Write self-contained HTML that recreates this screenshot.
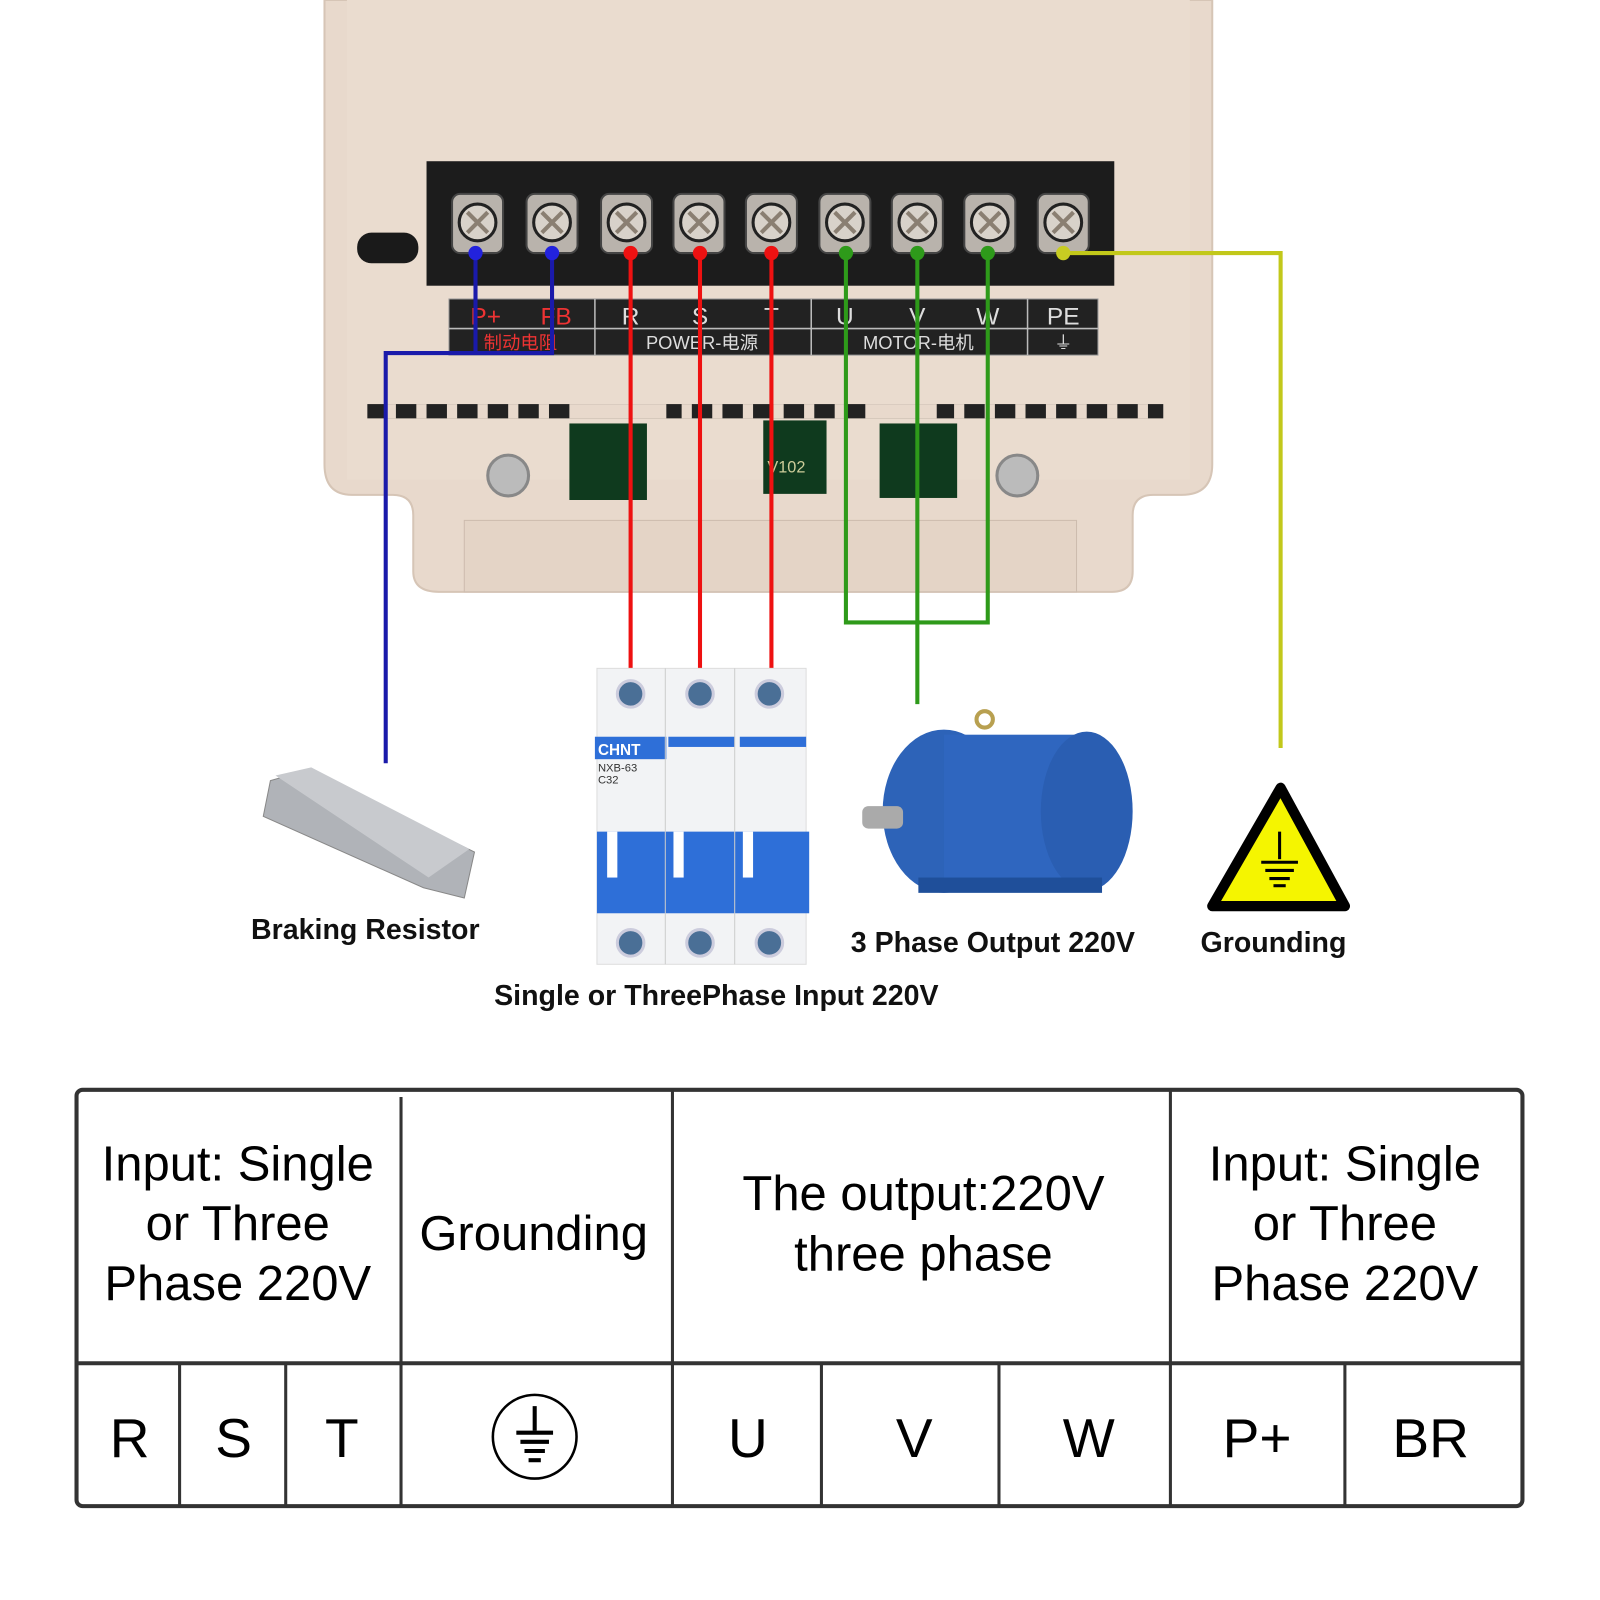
<!DOCTYPE html>
<html><head><meta charset="utf-8"><style>html,body{margin:0;padding:0;background:#fff}svg{display:block}</style></head><body>
<svg width="1600" height="1600" viewBox="0 0 1568 1568" xmlns="http://www.w3.org/2000/svg" font-family="Liberation Sans, DejaVu Sans, sans-serif">
<!-- housing -->
<path d="M318 0 H1188 V455 Q1188 485 1158 485 H1130 Q1110 485 1110 505 V560 Q1110 580 1090 580 H430 Q405 580 405 560 V505 Q405 485 385 485 H345 Q318 485 318 455 Z" fill="#e8d9cc" stroke="#d6c5b6" stroke-width="2"/>
<rect x="340" y="0" width="826" height="470" fill="#eadccf"/>
<rect x="455" y="510" width="600" height="70" fill="#e4d4c6" stroke="#cdbcae"/>
<rect x="350" y="228" width="60" height="30" rx="14" fill="#1a1a1a"/>
<!-- terminal block -->
<rect x="418" y="158" width="674" height="122" fill="#1c1c1c"/>
<g fill="#b9b3ac" stroke="#444" stroke-width="2">
<rect x="443" y="190" width="50" height="58" rx="8"/><rect x="516" y="190" width="50" height="58" rx="8"/><rect x="589" y="190" width="50" height="58" rx="8"/><rect x="660" y="190" width="50" height="58" rx="8"/><rect x="731" y="190" width="50" height="58" rx="8"/><rect x="803" y="190" width="50" height="58" rx="8"/><rect x="874" y="190" width="50" height="58" rx="8"/><rect x="945" y="190" width="50" height="58" rx="8"/><rect x="1017" y="190" width="50" height="58" rx="8"/>
</g>
<g fill="#d8d2ca" stroke="#222" stroke-width="3">
<circle cx="468" cy="218" r="18"/><circle cx="541" cy="218" r="18"/><circle cx="614" cy="218" r="18"/><circle cx="685" cy="218" r="18"/><circle cx="756" cy="218" r="18"/><circle cx="828" cy="218" r="18"/><circle cx="899" cy="218" r="18"/><circle cx="970" cy="218" r="18"/><circle cx="1042" cy="218" r="18"/>
</g>
<g stroke="#8a7f72" stroke-width="4">
<path d="M458 208 L478 228 M478 208 L458 228 M531 208 L551 228 M551 208 L531 228 M604 208 L624 228 M624 208 L604 228 M675 208 L695 228 M695 208 L675 228 M746 208 L766 228 M766 208 L746 228 M818 208 L838 228 M838 208 L818 228 M889 208 L909 228 M909 208 L889 228 M960 208 L980 228 M980 208 L960 228 M1032 208 L1052 228 M1052 208 L1032 228"/>
</g>
<!-- label strip -->
<rect x="440" y="293" width="636" height="55" fill="#222" stroke="#999"/>
<g stroke="#bbb" stroke-width="1.5"><line x1="440" y1="322" x2="1076" y2="322"/><line x1="583" y1="293" x2="583" y2="348"/><line x1="795" y1="293" x2="795" y2="348"/><line x1="1007" y1="293" x2="1007" y2="348"/></g>
<g font-size="24" fill="#ddd" text-anchor="middle"><text x="476" y="318" fill="#e33">P+</text><text x="545" y="318" fill="#e33">FB</text><text x="618" y="318">R</text><text x="686" y="318">S</text><text x="756" y="318">T</text><text x="828" y="318">U</text><text x="899" y="318">V</text><text x="968" y="318">W</text><text x="1042" y="318">PE</text></g>
<g font-size="18" fill="#ddd" text-anchor="middle" font-family="Liberation Sans, Noto Sans CJK SC, sans-serif"><text x="510" y="342" fill="#e33">制动电阻</text><text x="688" y="342">POWER-电源</text><text x="900" y="342">MOTOR-电机</text><text x="1042" y="342">⏚</text></g>
<!-- vents -->
<rect x="360" y="396" width="780" height="14" fill="#222"/>
<g fill="#e8d9cc"><rect x="378" y="396" width="10" height="14"/><rect x="408" y="396" width="10" height="14"/><rect x="438" y="396" width="10" height="14"/><rect x="468" y="396" width="10" height="14"/><rect x="498" y="396" width="10" height="14"/><rect x="528" y="396" width="10" height="14"/><rect x="558" y="396" width="95" height="14"/><rect x="668" y="396" width="10" height="14"/><rect x="698" y="396" width="10" height="14"/><rect x="728" y="396" width="10" height="14"/><rect x="758" y="396" width="10" height="14"/><rect x="788" y="396" width="10" height="14"/><rect x="818" y="396" width="10" height="14"/><rect x="848" y="396" width="70" height="14"/><rect x="935" y="396" width="10" height="14"/><rect x="965" y="396" width="10" height="14"/><rect x="995" y="396" width="10" height="14"/><rect x="1025" y="396" width="10" height="14"/><rect x="1055" y="396" width="10" height="14"/><rect x="1085" y="396" width="10" height="14"/><rect x="1115" y="396" width="10" height="14"/></g>
<rect x="558" y="415" width="76" height="75" fill="#0f3a1e"/><rect x="748" y="412" width="62" height="72" fill="#0f3a1e"/><rect x="862" y="415" width="76" height="73" fill="#0f3a1e"/>
<text x="752" y="463" font-size="16" fill="#cc9">V102</text>
<circle cx="498" cy="466" r="20" fill="#bbb" stroke="#888" stroke-width="3"/><circle cx="997" cy="466" r="20" fill="#bbb" stroke="#888" stroke-width="3"/>
<!-- wires -->
<g fill="none" stroke-width="4">
<path d="M466 248 V346 H378 V748 M541 248 V346 H466" stroke="#1a1aaa"/>
<path d="M618 248 V680 M686 248 V680 M756 248 V680" stroke="#ee1111"/>
<path d="M829 248 V610 H968 V248 M899 248 V690" stroke="#2e9a1a"/>
<path d="M1042 248 H1255 V733" stroke="#c2c81a"/>
</g>
<g><circle cx="466" cy="248" r="7" fill="#2222dd"/><circle cx="541" cy="248" r="7" fill="#2222dd"/><circle cx="618" cy="248" r="7" fill="#e11"/><circle cx="686" cy="248" r="7" fill="#e11"/><circle cx="756" cy="248" r="7" fill="#e11"/><circle cx="829" cy="248" r="7" fill="#2e9a1a"/><circle cx="899" cy="248" r="7" fill="#2e9a1a"/><circle cx="968" cy="248" r="7" fill="#2e9a1a"/><circle cx="1042" cy="248" r="7" fill="#c8cc22"/></g>
<!-- resistor -->
<path d="M265 765 L300 755 L465 835 L455 880 L415 870 L258 800 Z" fill="#b0b3b8" stroke="#888"/>
<path d="M270 760 L305 752 L460 832 L420 860 Z" fill="#c8cace"/>
<!-- breaker -->
<rect x="585" y="655" width="205" height="290" fill="#f2f3f5" stroke="#ddd"/>
<rect x="583" y="722" width="70" height="22" fill="#2e6fd8"/><rect x="655" y="722" width="65" height="10" fill="#2e6fd8"/><rect x="725" y="722" width="65" height="10" fill="#2e6fd8"/>
<text x="586" y="740" font-size="15" font-weight="bold" fill="#fff">CHNT</text>
<text x="586" y="756" font-size="11" fill="#333">NXB-63</text><text x="586" y="768" font-size="11" fill="#333">C32</text>
<rect x="585" y="815" width="208" height="80" fill="#2e6fd8"/><rect x="595" y="815" width="10" height="45" fill="#fff"/><rect x="660" y="815" width="10" height="45" fill="#fff"/><rect x="728" y="815" width="10" height="45" fill="#fff"/>
<line x1="652" y1="655" x2="652" y2="945" stroke="#ccc"/><line x1="720" y1="655" x2="720" y2="945" stroke="#ccc"/>
<g fill="#4a6f96" stroke="#ccd" stroke-width="3"><circle cx="618" cy="680" r="13"/><circle cx="686" cy="680" r="13"/><circle cx="754" cy="680" r="13"/><circle cx="618" cy="924" r="13"/><circle cx="686" cy="924" r="13"/><circle cx="754" cy="924" r="13"/></g>
<!-- motor -->
<ellipse cx="925" cy="795" rx="60" ry="80" fill="#2d63b8"/>
<rect x="925" y="720" width="140" height="150" fill="#2f66bf"/>
<ellipse cx="1065" cy="795" rx="45" ry="78" fill="#2a5eb2"/>
<rect x="845" y="790" width="40" height="22" rx="6" fill="#aaa"/>
<circle cx="965" cy="705" r="8" fill="none" stroke="#b8a050" stroke-width="4"/>
<rect x="900" y="860" width="180" height="15" fill="#1f4f9a"/>
<!-- ground sign -->
<path d="M1255 772 L1318 888 H1188 Z" fill="#f5f500" stroke="#000" stroke-width="10" stroke-linejoin="round"/>
<g stroke="#000" stroke-width="3"><line x1="1254" y1="815" x2="1254" y2="842"/><line x1="1236" y1="845" x2="1272" y2="845"/><line x1="1240" y1="853" x2="1268" y2="853"/><line x1="1244" y1="861" x2="1264" y2="861"/><line x1="1248" y1="868" x2="1260" y2="868"/></g>
<!-- labels -->
<g font-size="28" font-weight="bold" fill="#111" text-anchor="middle"><text x="358" y="920">Braking Resistor</text><text x="973" y="933">3 Phase Output 220V</text><text x="1248" y="933">Grounding</text><text x="702" y="985">Single or ThreePhase Input 220V</text></g>
<!-- table -->
<rect x="75" y="1068" width="1417" height="408" rx="6" fill="#fff" stroke="#333" stroke-width="4"/>
<line x1="75" y1="1336" x2="1492" y2="1336" stroke="#333" stroke-width="4"/>
<g stroke="#333" stroke-width="3"><line x1="393" y1="1075" x2="393" y2="1476"/><line x1="659" y1="1068" x2="659" y2="1476"/><line x1="1147" y1="1068" x2="1147" y2="1476"/><line x1="176" y1="1336" x2="176" y2="1476"/><line x1="280" y1="1336" x2="280" y2="1476"/><line x1="805" y1="1336" x2="805" y2="1476"/><line x1="979" y1="1336" x2="979" y2="1476"/><line x1="1318" y1="1336" x2="1318" y2="1476"/></g>
<g font-size="48" fill="#000" text-anchor="middle">
<text x="233" y="1157">Input: Single</text><text x="233" y="1215">or Three</text><text x="233" y="1274">Phase 220V</text>
<text x="523" y="1225">Grounding</text>
<text x="905" y="1186">The output:220V</text><text x="905" y="1245">three phase</text>
<text x="1318" y="1157">Input: Single</text><text x="1318" y="1215">or Three</text><text x="1318" y="1274">Phase 220V</text>
<g font-size="54"><text x="127" y="1428">R</text><text x="229" y="1428">S</text><text x="335" y="1428">T</text><text x="733" y="1428">U</text><text x="896" y="1428">V</text><text x="1067" y="1428">W</text><text x="1232" y="1428">P+</text><text x="1402" y="1428">BR</text></g>
</g>
<circle cx="524" cy="1408" r="41" fill="none" stroke="#000" stroke-width="2.5"/>
<g stroke="#000" stroke-width="4"><line x1="524" y1="1378" x2="524" y2="1402"/><line x1="506" y1="1404" x2="542" y2="1404"/><line x1="510" y1="1413" x2="538" y2="1413"/><line x1="514" y1="1422" x2="534" y2="1422"/><line x1="518" y1="1431" x2="530" y2="1431"/></g>
</svg>
</body></html>
